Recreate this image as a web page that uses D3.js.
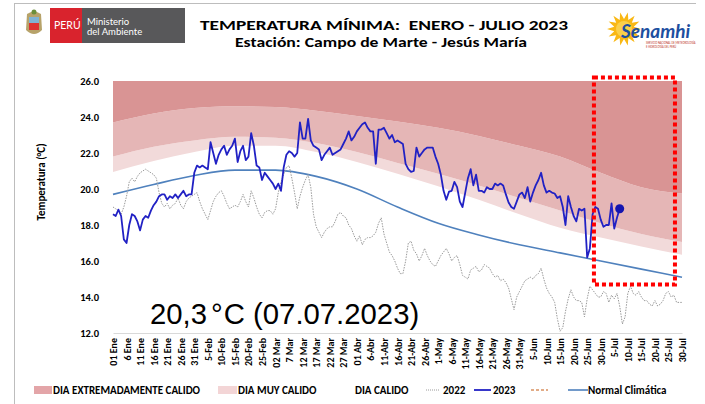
<!DOCTYPE html>
<html>
<head>
<meta charset="utf-8">
<script src="https://cdn.jsdelivr.net/npm/d3@7"></script>
<style>
  body { margin: 0; background: #fff; }
  svg { display: block; font-family: Carlito, Calibri, Lato, sans-serif; }
</style>
</head>
<body>
<div id="chart"></div>
<script>
// x axis labels, one every 5 days from 1 Jan
const tickLabels = ['01 Ene', '6 Ene', '11 Ene', '16 Ene', '21 Ene', '26 Ene', '31 Ene',
    '5-Feb', '10-Feb', '15-Feb', '20-Feb', '25-Feb', '02 Mar', '7 Mar', '12 Mar', '17 Mar',
    '22 Mar', '27 Mar', '01 Abr', '6-Abr', '11-Abr', '16-Abr', '21-Abr', '26-Abr', '1-May',
    '6-May', '11-May', '16-May', '21-May', '26-May', '31-May', '5-Jun', '10-Jun', '15-Jun',
    '20-Jun', '25-Jun', '30-Jun', '5-Jul', '10-Jul', '15-Jul', '20-Jul', '25-Jul', '30-Jul'];

// daily minimum temperature 2023 (1 Jan - 7 Jul)
const temps2023 = [
    18.6, 18.5, 18.85, 18.5, 17.2, 17.0, 18.0, 18.6, 18.5, 18.2,
    17.7, 18.3, 18.5, 18.4, 18.8, 19.1, 19.3, 19.6, 19.7, 19.7,
    19.4, 19.6, 19.5, 19.7, 19.5, 19.7, 19.9, 19.6, 19.7, 19.7,
    20.9, 21.3, 21.2, 21.3, 21.2, 21.1, 22.6, 22.0, 21.4, 21.9,
    22.2, 22.4, 21.9, 22.2, 22.4, 22.8, 21.5, 22.1, 22.4, 21.6,
    21.8, 23.1, 22.4, 21.3, 21.2, 20.5, 20.9, 20.7, 20.5, 20.3,
    20.0, 20.3, 19.9, 21.2, 21.9, 22.1, 22.0, 21.8, 22.0, 23.7,
    22.8, 22.8, 23.9, 22.7, 22.4, 22.3, 22.2, 21.6, 21.9, 22.1,
    22.3, 21.9, 22.0, 22.1, 22.2, 22.5, 22.8, 23.2, 22.7, 22.9,
    23.2, 23.4, 23.6, 23.7, 23.4, 23.2, 23.2, 21.4, 23.3, 23.3,
    23.4, 23.1, 22.8, 23.0, 22.6, 22.7, 22.6, 22.5, 21.4, 21.1,
    20.95, 21.0, 22.3, 21.8, 22.0, 22.2, 22.3, 22.3, 22.3, 21.8,
    21.4, 20.8, 19.9, 19.4, 19.85, 19.9, 20.4, 20.1, 19.3, 19.0,
    19.8, 20.6, 21.1, 20.2, 20.8, 19.9, 19.9, 19.8, 20.1, 20.0,
    20.0, 20.3, 20.2, 20.3, 20.2, 19.7, 19.25, 19.0, 18.9, 19.3,
    19.7, 19.8, 19.5, 20.1, 19.3, 19.8, 20.2, 20.5, 20.9, 20.2,
    19.8, 19.9, 19.8, 19.75, 19.5, 19.6, 19.0, 18.0, 19.6, 19.0,
    18.5, 18.2, 18.9, 18.8, 18.9, 16.2, 16.7, 18.6, 19.0, 18.9,
    18.3, 17.9, 18.0, 18.0, 19.2, 17.8, 18.4, 18.9
];

// daily minimum temperature 2022 (1 Jan - 30 Jul)
const temps2022 = [
    19.0, 18.9, 18.8, 18.6, 19.0, 19.6, 20.4, 20.6, 20.4, 20.7,
    20.9, 21.0, 21.1, 21.0, 20.9, 20.8, 20.6, 19.8, 19.2, 19.0,
    19.2, 18.9, 19.1, 19.2, 19.5, 19.1, 18.9, 19.3, 19.5, 19.6,
    19.7, 19.8, 19.3, 18.9, 18.6, 18.3, 18.8, 19.3, 19.6, 19.8,
    19.9, 19.6, 19.2, 18.9, 19.0, 19.1, 19.0, 19.3, 19.7, 19.3,
    19.0, 19.9, 19.5, 19.0, 18.6, 18.4, 18.7, 18.8, 18.8, 18.6,
    18.9, 19.8, 20.4, 20.8, 21.2, 21.3, 20.6, 19.8, 18.9, 19.6,
    20.1, 20.5, 20.8, 20.1, 18.6, 17.9, 17.6, 17.3, 17.6, 17.8,
    17.9, 17.9, 18.2, 18.6, 18.7, 18.5, 18.4, 18.0, 17.8, 17.4,
    17.1, 17.4, 16.9, 17.2, 17.3, 17.3, 17.4, 17.6, 18.1, 18.4,
    17.5, 17.0, 16.5, 16.3, 16.0, 15.6, 15.3, 15.3, 16.0, 17.0,
    17.1, 16.6, 16.4, 16.0, 16.3, 16.7, 16.3, 16.0, 15.8, 15.7,
    16.0, 16.3, 16.5, 16.7, 16.4, 16.0, 16.2, 16.3, 15.8, 15.2,
    15.1, 15.0, 15.5, 15.6, 15.7, 15.4, 15.5, 15.8, 15.7, 15.6,
    15.3, 15.1, 15.2, 14.9, 15.0, 14.8, 14.5, 13.9, 13.3, 14.0,
    14.3, 14.6, 14.9, 15.0, 15.1, 15.0, 15.2, 15.3, 15.6, 15.0,
    14.5, 14.2, 14.0, 13.7, 12.8, 12.1, 12.3, 13.2, 13.9, 14.4,
    14.0, 13.8, 13.8, 13.7, 12.9, 13.9, 14.6, 14.4, 14.2, 14.0,
    14.0, 14.3, 14.2, 13.7, 14.1, 13.9, 14.2, 13.5, 12.5, 12.9,
    14.2, 14.6, 14.2, 14.1, 14.3, 14.0, 13.8, 13.8, 13.6, 13.5,
    13.8, 13.5, 13.6, 13.8, 14.2, 14.3, 14.0, 14.1, 13.7, 13.7,
    13.7
];

// climatology, read every 15 days
const bandDays = [0, 15, 30, 45, 60, 75, 90, 105, 120, 135, 150, 165, 180, 195, 210];
const normalVals = [19.7, 20.25, 20.75, 21.05, 21.05, 20.7, 20.0, 19.0, 18.1, 17.45, 16.9, 16.45, 16.0, 15.55, 15.1];
const calidoVals = [20.95, 21.55, 22.05, 22.4, 22.4, 22.05, 21.5, 20.85, 20.15, 19.4, 18.6, 17.85, 17.3, 16.8, 16.35];
const muyCalidoVals = [21.8, 22.35, 22.7, 22.9, 22.85, 22.55, 22.05, 21.45, 20.85, 20.2, 19.5, 18.8, 18.1, 17.5, 17.05];
const extremoVals = [23.7, 24.2, 24.5, 24.6, 24.55, 24.35, 24.05, 23.75, 23.4, 22.95, 22.4, 21.8, 20.9, 20.1, 19.75];

const yTicks = [12, 14, 16, 18, 20, 22, 24, 26];
const recordDay = 187;
const boxDays = [177.5, 207.4];
const boxTemps = [14.7, 26.2];

function renderChart(containerId) {
    const W = 705, H = 404;
    const svg = d3.select(`#${containerId}`)
        .append('svg')
        .attr('width', W)
        .attr('height', H);

    const x = d3.scaleLinear().domain([0, 210]).range([113, 682]);
    const y = d3.scaleLinear().domain([12, 26]).range([333, 81]);

    // frame lines
    svg.append('line').attr('x1', 15).attr('x2', 696).attr('y1', 3.5).attr('y2', 3.5)
        .attr('stroke', '#bdbdbd').attr('stroke-width', 1);
    svg.append('line').attr('x1', 14.5).attr('x2', 14.5).attr('y1', 3).attr('y2', H)
        .attr('stroke', '#bdbdbd').attr('stroke-width', 1);

    // --- header logos ---
    const esc = svg.append('g').attr('transform', 'translate(34,24)');
    esc.append('path').attr('d', 'M-7,-10 Q0,-15 7,-10 L8,6 Q0,14 -8,6 Z').attr('fill', '#b7a36a');
    esc.append('rect').attr('x', -5).attr('y', -7).attr('width', 10).attr('height', 6).attr('fill', '#7fb3d5');
    esc.append('rect').attr('x', -5).attr('y', -1).attr('width', 10).attr('height', 7).attr('fill', '#d33');
    esc.append('circle').attr('cx', 0).attr('cy', -12).attr('r', 2.5).attr('fill', '#6b8e3a');

    svg.append('rect').attr('x', 50).attr('y', 8).attr('width', 32).attr('height', 35).attr('fill', '#d9232d');
    svg.append('rect').attr('x', 82).attr('y', 8).attr('width', 103).attr('height', 35).attr('fill', '#58585a');
    svg.append('text').attr('x', 54).attr('y', 29).attr('fill', '#fff')
        .style('font-family', 'Lato, sans-serif').style('font-size', '10.5px').text('PERÚ');
    svg.append('text').attr('x', 87).attr('y', 25).attr('fill', '#fff')
        .style('font-family', 'Lato, sans-serif').style('font-size', '9.5px').text('Ministerio');
    svg.append('text').attr('x', 87).attr('y', 35).attr('fill', '#fff')
        .style('font-family', 'Lato, sans-serif').style('font-size', '9.5px').text('del Ambiente');

    // Senamhi sun
    const rays = d3.range(28).map(i => {
        const a = i * Math.PI / 14;
        const r = i % 2 === 0 ? 17 : 10;
        return [624 + r * Math.cos(a), 29 + r * Math.sin(a)];
    });
    svg.append('polygon').attr('points', rays.map(p => p.join(',')).join(' ')).attr('fill', '#f9b814');
    svg.append('circle').attr('cx', 624).attr('cy', 29).attr('r', 8).attr('fill', '#fbd04a');
    svg.append('text').attr('x', 621).attr('y', 38)
        .style('font-family', 'Lato, sans-serif').style('font-size', '19px')
        .style('font-weight', 'bold').style('font-style', 'italic')
        .attr('fill', '#1d4f9f').text('Senamhi');
    svg.append('text').attr('x', 646).attr('y', 44).attr('fill', '#c0392b')
        .style('font-size', '3px').text('SERVICIO NACIONAL DE METEOROLOGÍA');
    svg.append('text').attr('x', 646).attr('y', 48).attr('fill', '#c0392b')
        .style('font-size', '3px').text('E HIDROLOGÍA DEL PERÚ');

    // titles
    svg.append('text').attr('x', 384).attr('y', 29.5).attr('text-anchor', 'middle')
        .style('font-size', '14.5px').style('font-weight', 'bold').style('white-space', 'pre')
        .attr('fill', '#000')
        .attr('textLength', 368).attr('lengthAdjust', 'spacingAndGlyphs')
        .text('TEMPERATURA MÍNIMA:  ENERO - JULIO 2023');
    svg.append('text').attr('x', 381).attr('y', 46.5).attr('text-anchor', 'middle')
        .style('font-size', '14.5px').style('font-weight', 'bold').attr('fill', '#000')
        .attr('textLength', 292).attr('lengthAdjust', 'spacingAndGlyphs')
        .text('Estación: Campo de Marte - Jesús María');

    // --- climatology bands ---
    const bandRows = bandDays.map((d, i) => ({
        day: d, calido: calidoVals[i], muy: muyCalidoVals[i], ext: extremoVals[i], normal: normalVals[i]
    }));
    const area = (lo, hi) => d3.area()
        .x(d => x(d.day))
        .y0(d => y(lo(d)))
        .y1(d => y(hi(d)))
        .curve(d3.curveMonotoneX);

    svg.append('path').datum(bandRows).attr('fill', '#f2dada')
        .attr('d', area(d => d.calido, d => d.muy));
    svg.append('path').datum(bandRows).attr('fill', '#e5b6b6')
        .attr('d', area(d => d.muy, d => d.ext));
    svg.append('path').datum(bandRows).attr('fill', '#d99494')
        .attr('d', area(d => d.ext, () => 26));

    // axes
    const xAxis = svg.append('g')
        .attr('transform', `translate(0,${y(12)})`)
        .call(d3.axisBottom(x)
            .tickValues(d3.range(0, 211, 5))
            .tickFormat((d, i) => tickLabels[i])
            .tickSize(0)
            .tickSizeOuter(0));
    xAxis.select('.domain').attr('stroke', '#d9d9d9').attr('stroke-width', 1.2);
    xAxis.selectAll('text')
        .attr('transform', 'rotate(-90)')
        .attr('text-anchor', 'end')
        .attr('x', -5)
        .attr('y', 0)
        .attr('dy', '0.35em')
        .style('font-family', 'Carlito, Calibri, Lato, sans-serif')
        .style('font-size', '10px')
        .style('font-weight', 'bold')
        .attr('fill', '#000');

    const yAxis = svg.append('g')
        .attr('transform', 'translate(99,0)')
        .call(d3.axisLeft(y).tickValues(yTicks).tickFormat(d3.format('.1f')).tickSize(0).tickPadding(0));
    yAxis.select('.domain').remove();
    yAxis.selectAll('text')
        .style('font-family', 'Carlito, Calibri, Lato, sans-serif')
        .style('font-size', '10.5px')
        .style('font-weight', 'bold')
        .attr('fill', '#000');

    svg.append('text')
        .attr('transform', 'rotate(-90)')
        .attr('x', -182)
        .attr('y', 45)
        .attr('text-anchor', 'middle')
        .style('font-size', '11px')
        .style('font-weight', 'bold')
        .text('Temperatura (°C)');

    // --- series ---
    const normalLine = d3.line().x(d => x(d.day)).y(d => y(d.normal)).curve(d3.curveMonotoneX);
    svg.append('path').datum(bandRows)
        .attr('fill', 'none').attr('stroke', '#4f81bd').attr('stroke-width', 1.6)
        .attr('d', normalLine);

    const dayLine = d3.line().x((d, i) => x(i)).y(d => y(d));
    svg.append('path').datum(temps2022)
        .attr('fill', 'none').attr('stroke', '#9a9a9a').attr('stroke-width', 1)
        .attr('stroke-dasharray', '1.5,1.2')
        .attr('d', dayLine);

    svg.append('path').datum(temps2023)
        .attr('fill', 'none').attr('stroke', '#2121c4').attr('stroke-width', 1.8)
        .attr('stroke-linejoin', 'round')
        .attr('d', dayLine);

    svg.append('circle')
        .attr('cx', x(recordDay)).attr('cy', y(temps2023[recordDay]))
        .attr('r', 4.5).attr('fill', '#1515b0');

    // red dotted box
    svg.append('rect')
        .attr('x', x(boxDays[0])).attr('y', y(boxTemps[1]))
        .attr('width', x(boxDays[1]) - x(boxDays[0]))
        .attr('height', y(boxTemps[0]) - y(boxTemps[1]))
        .attr('fill', 'none').attr('stroke', '#ff0000').attr('stroke-width', 4)
        .attr('stroke-dasharray', '4,3');

    // record annotation
    const rec = svg.append('text').attr('x', 150).attr('y', 324)
        .style('font-family', '"Liberation Sans", Arial, sans-serif')
        .style('font-size', '29.3px').attr('fill', '#000');
    rec.append('tspan').text('20,3');
    rec.append('tspan').attr('dx', 4).text('°');
    rec.append('tspan').attr('dx', 1).text('C (07.07.2023)');

    // --- legend ---
    const lg = svg.append('g').style('font-size', '11px').style('font-weight', 'bold');
    const ly = 390;
    lg.append('rect').attr('x', 34).attr('y', ly - 4).attr('width', 18).attr('height', 8).attr('fill', '#e3a5a8');
    lg.append('text').attr('x', 53).attr('y', ly).attr('dy', '0.35em').text('DIA EXTREMADAMENTE CALIDO');
    lg.append('rect').attr('x', 218).attr('y', ly - 4).attr('width', 19).attr('height', 8).attr('fill', '#f3d5d6');
    lg.append('text').attr('x', 238).attr('y', ly).attr('dy', '0.35em').text('DIA MUY CALIDO');
    lg.append('text').attr('x', 355).attr('y', ly).attr('dy', '0.35em').text('DIA CALIDO');
    lg.append('line').attr('x1', 426).attr('x2', 440).attr('y1', ly).attr('y2', ly)
        .attr('stroke', '#9a9a9a').attr('stroke-dasharray', '1,1');
    lg.append('text').attr('x', 443).attr('y', ly).attr('dy', '0.35em').text('2022');
    lg.append('line').attr('x1', 474).attr('x2', 491).attr('y1', ly).attr('y2', ly)
        .attr('stroke', '#2121c4').attr('stroke-width', 1.8);
    lg.append('text').attr('x', 493).attr('y', ly).attr('dy', '0.35em').text('2023');
    lg.append('line').attr('x1', 531).attr('x2', 548).attr('y1', ly).attr('y2', ly)
        .attr('stroke', '#c55a11').attr('stroke-width', 1.2).attr('stroke-dasharray', '3,2');
    lg.append('line').attr('x1', 568).attr('x2', 588).attr('y1', ly).attr('y2', ly)
        .attr('stroke', '#4f81bd').attr('stroke-width', 1.6);
    lg.append('text').attr('x', 588).attr('y', ly).attr('dy', '0.35em').text('Normal Climática');
}

renderChart('chart');
</script>
</body>
</html>
